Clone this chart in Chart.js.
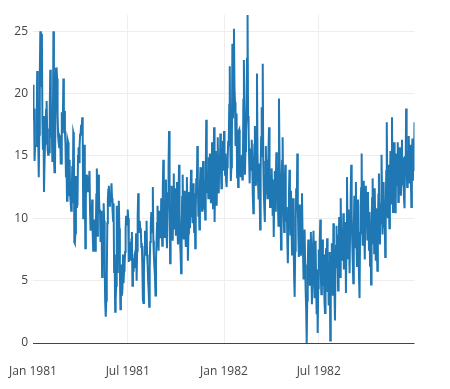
<!DOCTYPE html>
<html>
<head>
<meta charset="utf-8">
<script src="https://cdn.jsdelivr.net/npm/chart.js@4.4.1/dist/chart.umd.min.js"></script>
<style>
html,body{margin:0;padding:0;background:#fff;}
canvas{display:block;}
</style>
</head>
<body>
<canvas id="c" width="450" height="389"></canvas>
<script>
// Daily minimum temperatures, one value per day
const temps1981 = [
20.7,17.9,18.8,14.6,15.8,15.8,15.8,17.4,21.8,20.0,16.2,13.3,16.7,21.5,25.0,20.7,20.6,24.8,17.7,15.5,18.2,12.1,14.4,16.0,16.5,18.7,19.4,17.2,15.5,15.1,15.4,
15.3,18.8,21.9,19.9,16.6,16.8,14.6,17.1,25.0,15.0,13.7,13.9,18.3,22.0,22.1,21.2,18.4,16.6,16.1,15.7,16.6,16.5,14.4,14.4,18.5,16.9,17.5,21.2,
17.8,18.6,17.0,16.0,13.3,14.3,11.4,16.3,16.1,11.8,12.2,14.7,11.8,11.3,10.6,11.7,14.2,11.2,16.9,16.7,8.1,8.0,8.8,13.4,10.9,13.4,11.0,15.0,15.7,14.5,15.8,
16.7,16.8,17.5,17.1,18.1,16.6,10.0,14.9,15.9,13.0,7.6,11.5,13.5,13.0,13.3,12.1,12.4,13.2,13.8,10.6,9.0,10.0,9.8,11.5,8.9,7.4,9.9,9.3,9.9,7.4,
8.6,11.9,14.0,8.6,10.0,13.5,12.0,10.5,10.7,8.1,10.1,10.6,5.3,6.6,8.5,11.2,9.8,5.9,3.2,2.1,3.4,5.4,9.6,11.5,12.3,12.6,11.0,11.2,11.4,11.8,12.8,
11.6,10.6,9.8,11.2,5.7,7.1,2.5,3.5,4.6,11.0,5.7,7.7,10.4,11.4,9.2,6.1,2.7,4.3,6.3,3.8,4.4,7.1,4.8,5.8,6.2,7.3,9.2,10.2,9.5,9.5,
10.7,10.0,6.5,7.0,7.4,8.1,6.6,8.3,8.9,4.6,6.8,5.7,6.1,7.0,7.2,6.3,8.8,5.0,7.4,10.1,12.0,9.0,8.9,9.8,9.0,9.2,7.7,8.0,6.1,3.5,3.2,
5.7,7.7,9.0,7.0,8.4,9.8,7.1,6.3,5.0,4.2,2.9,6.0,8.1,9.3,10.5,8.8,9.6,12.5,8.2,7.0,6.1,5.4,3.8,6.6,8.0,9.6,11.0,8.7,7.4,9.9,10.6,
10.2,8.4,11.6,9.1,7.8,12.3,14.7,10.9,8.5,9.7,11.4,13.1,9.0,7.6,10.3,12.0,14.2,17.0,11.8,6.4,8.7,10.5,12.6,9.4,8.2,11.1,13.6,10.0,9.1,12.4,
8.6,10.8,12.9,9.5,7.9,11.3,14.3,10.4,8.1,7.2,5.6,8.9,11.7,13.5,9.8,8.3,10.6,12.2,9.1,7.7,10.9,13.3,11.0,6.6,8.8,12.1,10.3,9.2,11.8,13.9,10.1,
11.5,9.6,12.8,10.4,8.9,12.0,7.6,10.7,13.2,11.9,15.8,12.6,10.2,11.4,9.1,12.7,14.1,11.0,13.5,10.6,12.3,14.6,11.7,10.8,13.0,9.9,12.9,17.9,14.0,12.1,
13.4,11.6,14.9,12.3,15.2,13.8,11.2,14.5,16.1,12.7,10.8,14.0,17.3,9.7,12.9,15.4,13.6,11.0,14.2,16.5,13.1,12.0,15.0,13.7,16.8,14.3,12.4,15.6,13.9,16.2,14.6
];
const temps1982 = [
17.0,15.0,13.5,15.2,13.0,12.5,14.1,14.8,16.2,15.8,19.1,22.2,15.9,13.0,14.1,15.8,24.0,18.0,19.7,25.2,20.5,19.3,15.8,17.0,18.4,13.3,14.6,12.5,17.0,17.1,14.0,
14.6,13.3,14.8,15.1,13.1,13.6,19.5,22.7,17.2,13.5,15.4,17.0,19.2,22.8,26.3,18.2,17.0,14.8,12.8,15.5,15.6,13.9,16.3,14.2,11.9,10.4,13.6,15.9,
17.4,14.1,12.6,16.8,21.6,15.2,13.0,11.5,14.4,12.2,9.1,13.8,16.5,18.9,15.0,22.4,14.6,12.1,10.8,9.7,13.4,15.8,12.0,14.7,11.6,13.2,15.5,17.3,12.8,10.9,13.5,
11.8,14.0,12.4,10.2,13.1,8.5,11.4,13.8,10.6,12.9,15.3,12.7,14.1,11.2,9.4,19.6,15.1,13.0,10.8,7.5,11.9,14.6,16.5,12.3,10.1,8.9,12.5,14.3,11.0,9.8,
10.9,8.2,6.4,9.6,11.8,13.9,10.5,8.7,12.2,9.3,7.1,10.4,11.6,8.0,5.2,3.7,7.4,9.9,12.4,10.6,15.2,11.3,8.6,6.9,9.5,11.1,8.3,7.0,10.2,12.0,9.1,
7.2,5.1,8.6,9.1,6.3,4.2,2.7,0.0,3.4,6.1,8.3,5.8,7.9,4.6,6.8,8.9,5.5,3.1,6.4,7.7,9.0,5.2,3.6,6.9,8.2,4.8,2.3,5.9,0.8,4.4,
7.5,6.2,8.1,9.9,5.4,3.9,6.7,8.3,4.6,7.1,5.0,3.3,2.4,5.8,7.6,6.0,8.4,4.1,6.5,3.0,5.2,7.3,0.2,4.7,6.9,8.0,5.6,3.8,9.6,7.2,4.3,
1.8,5.5,7.8,9.4,6.1,8.7,4.2,6.9,10.1,7.4,5.3,11.6,8.2,6.6,9.0,7.0,10.4,5.9,8.5,6.3,9.7,4.0,7.7,13.3,9.2,6.8,10.7,8.0,5.6,9.5,11.3,
14.3,10.2,8.1,6.5,4.8,9.0,11.8,7.6,10.6,12.9,8.4,6.1,9.9,11.5,7.3,5.2,3.6,8.8,10.9,12.4,15.2,9.6,7.8,11.2,13.0,8.9,6.7,10.0,12.6,9.3,
11.0,8.3,12.1,9.7,7.4,10.5,6.2,8.9,4.7,9.4,11.6,13.2,8.0,10.1,7.2,12.4,9.5,6.6,10.8,8.4,5.8,9.0,11.9,13.6,10.3,7.9,11.2,9.6,15.1,12.0,8.7,
10.6,12.9,9.3,11.4,6.9,10.2,13.8,17.7,12.5,10.0,14.3,11.6,9.2,12.8,15.4,11.1,13.7,18.1,12.2,10.5,14.6,16.1,11.9,13.3,10.4,15.2,12.6,14.0,16.1,11.3,
13.9,12.1,15.7,14.4,11.8,13.0,16.3,12.7,14.9,13.4,11.5,10.8,15.0,13.6,18.8,14.1,12.5,15.4,13.2,16.6,14.0,12.8,15.9,13.5,10.9,14.7,16.4,13.0,15.2,13.8,17.7
];
// x tick labels and their day offsets from 1 Jan 1981
const xTickLabels = ["Jan 1981", "Jul 1981", "Jan 1982", "Jul 1982"];
const xTickDays = [0, 181, 365, 546];
const yTickValues = [0, 5, 10, 15, 20, 25];

const allTemps = temps1981.concat(temps1982);
const points = allTemps.map((v, i) => ({x: i, y: v}));
const FONT = '"Open Sans", "DejaVu Sans", sans-serif';

new Chart(document.getElementById('c'), {
  type: 'line',
  data: {
    datasets: [{
      data: points,
      borderColor: '#1f77b4',
      borderWidth: 2,
      pointRadius: 0,
      tension: 0,
      fill: false
    }]
  },
  options: {
    responsive: false,
    animation: false,
    events: [],
    layout: {padding: {left: 0, right: 35.5, top: 15, bottom: 0}},
    plugins: {legend: {display: false}, tooltip: {enabled: false}},
    scales: {
      x: {
        type: 'linear',
        min: 0,
        max: allTemps.length - 1,
        afterBuildTicks: s => { s.ticks = xTickDays.map(v => ({value: v})); },
        afterFit: s => { s.height = 46; s.paddingLeft = 0; s.paddingRight = 0; },
        ticks: {
          autoSkip: false, maxRotation: 0, minRotation: 0,
          padding: 21,
          color: '#444',
          font: {family: FONT, size: 12},
          callback: v => { const k = xTickDays.indexOf(v); return k >= 0 ? xTickLabels[k] : ''; }
        },
        grid: {
          color: c => (c.tick && c.tick.value === 0) ? 'rgba(0,0,0,0)' : '#eeeeee',
          lineWidth: 1,
          drawTicks: false
        },
        border: {display: false}
      },
      y: {
        min: 0,
        max: 26.3,
        afterBuildTicks: s => { s.ticks = yTickValues.map(v => ({value: v})); },
        afterFit: s => { s.width = 33; s.paddingTop = 0; s.paddingBottom = 0; },
        ticks: {
          padding: 5,
          color: '#444',
          font: {family: FONT, size: 12}
        },
        grid: {
          color: c => (c.tick && c.tick.value === 0) ? '#444444' : '#eeeeee',
          lineWidth: 1,
          drawTicks: false
        },
        border: {display: false}
      }
    }
  }
});
</script>
</body>
</html>
